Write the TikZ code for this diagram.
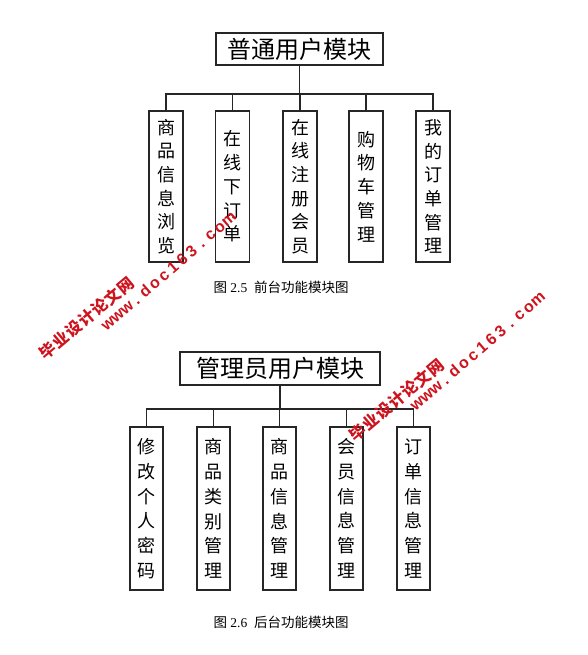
\documentclass[tikz,border=0pt]{standalone}
\usepackage{fontspec}
\setmainfont{Liberation Serif}
\newfontfamily\cjk{Noto Sans CJK SC}
\newfontfamily\wmfont{Liberation Sans}
\definecolor{wmred}{RGB}{205,20,30}
\newcommand\wmc[1]{\makebox[12.3pt]{#1}}
\newcommand\wmz[1]{\makebox[17pt]{#1}}
\begin{document}
\begin{tikzpicture}[x=1pt,y=-1pt,
  box/.style={draw=black!85,line width=1.1pt,inner sep=0pt},
  toptitle/.style={box,minimum width=167pt,minimum height=32pt,font=\cjk\fontsize{24}{28}\selectfont},
  bottitle/.style={box,minimum width=200pt,minimum height=33pt,font=\cjk\fontsize{24}{28}\selectfont},
  topchild/.style={box,minimum width=34pt,minimum height=151pt,align=center,font=\cjk\fontsize{18}{23.7}\selectfont},
  botchild/.style={box,minimum width=33pt,minimum height=163pt,align=center,font=\cjk\fontsize{18}{24.7}\selectfont},
  link/.style={draw=black!85,line width=1.1pt},
  caption/.style={inner sep=0pt,font=\fontsize{13.5}{15}\selectfont},
  wmcn/.style={inner sep=0pt,rotate=40,text=wmred,font=\cjk\bfseries\fontsize{16}{16}\selectfont},
  wmen/.style={inner sep=0pt,rotate=41,text=wmred,font=\wmfont\bfseries\fontsize{16}{16}\selectfont}]
\useasboundingbox (0,0) rectangle (587,655);

% ---------- top diagram ----------
\node[toptitle] (t1) at (299.5,49) {普通用户模块};
\node[topchild] (a1) at (166,186.5) {商\\品\\信\\息\\浏\\览};
\node[topchild] (a2) at (232.5,186.5) {在\\线\\下\\订\\单};
\node[topchild] (a3) at (300,186.5) {在\\线\\注\\册\\会\\员};
\node[topchild] (a4) at (366,186.5) {购\\物\\车\\管\\理};
\node[topchild] (a5) at (433,186.5) {我\\的\\订\\单\\管\\理};
\coordinate (bus1) at (300,94);
\draw[link] (t1.south) -- (t1.south |- bus1);
\draw[link] (a1.north) -- (a1.north |- bus1) -- (a5.north |- bus1) -- (a5.north);
\foreach \n in {a2,a3,a4} \draw[link] (\n.north) -- (\n.north |- bus1);
\node[caption] (cap1) at (281,287) {{\cjk 图} 2.5\enspace{\cjk 前台功能模块图}};

% ---------- bottom diagram ----------
\node[bottitle] (t2) at (280,368.5) {管理员用户模块};
\node[botchild] (b1) at (146.5,508.5) {修\\改\\个\\人\\密\\码};
\node[botchild] (b2) at (213.5,508.5) {商\\品\\类\\别\\管\\理};
\node[botchild] (b3) at (279.5,508.5) {商\\品\\信\\息\\管\\理};
\node[botchild] (b4) at (346.5,508.5) {会\\员\\信\\息\\管\\理};
\node[botchild] (b5) at (413.5,508.5) {订\\单\\信\\息\\管\\理};
\coordinate (bus2) at (280,409);
\draw[link] (t2.south) -- (t2.south |- bus2);
\draw[link] (b1.north) -- (b1.north |- bus2) -- (b5.north |- bus2) -- (b5.north);
\foreach \n in {b2,b3,b4} \draw[link] (\n.north) -- (\n.north |- bus2);
\node[caption] (cap2) at (281,622) {{\cjk 图} 2.6\enspace{\cjk 后台功能模块图}};

% ---------- watermarks ----------
\node[wmcn] (w1a) at (87,318) {\wmz{毕}\wmz{业}\wmz{设}\wmz{计}\wmz{论}\wmz{文}\wmz{网}};
\node[wmen] (w1b) at (168,271) {\wmc{w}\wmc{w}\wmc{w}\wmc{.}\wmc{d}\wmc{o}\wmc{c}\wmc{1}\wmc{6}\wmc{3}\wmc{.}\wmc{c}\wmc{o}\wmc{m}};
\node[wmcn] (w2a) at (397,400) {\wmz{毕}\wmz{业}\wmz{设}\wmz{计}\wmz{论}\wmz{文}\wmz{网}};
\node[wmen] (w2b) at (477,351) {\wmc{w}\wmc{w}\wmc{w}\wmc{.}\wmc{d}\wmc{o}\wmc{c}\wmc{1}\wmc{6}\wmc{3}\wmc{.}\wmc{c}\wmc{o}\wmc{m}};
\end{tikzpicture}
\end{document}
